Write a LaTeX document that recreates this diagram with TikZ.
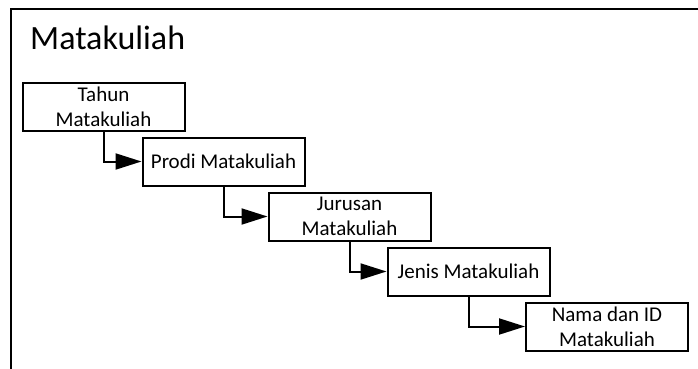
\documentclass[tikz,border=0pt]{standalone}
\usepackage{fontspec}
\setmainfont{Carlito}
\usetikzlibrary{arrows.meta}

\begin{document}
\begin{tikzpicture}
    [x=1pt,y=-1pt,
    level/.style={rectangle,draw,line width=2pt,minimum width=162pt,minimum height=48pt,
        inner sep=2pt,align=center,font=\fontsize{21}{25}\selectfont},
    turun/.style={line width=2pt,-{Triangle[length=26pt,width=16pt]}}]
    \useasboundingbox (0,0) rectangle (698,369);
    % frame, cut off at the right and bottom
    \draw[line width=2.5pt] (698,9) -- (11,9) -- (11,369);
    \node[anchor=base west,inner sep=0pt,font=\fontsize{34}{40}\selectfont] (judul) at (30,50) {Matakuliah};
    \node[level] (tahun) at (103.5,107) {Tahun\\Matakuliah};
    \node[level] (prodi) at (223.5,161.5) {Prodi Matakuliah};
    \node[level] (jurusan) at (349.5,216.5) {Jurusan\\Matakuliah};
    \node[level] (jenis) at (468.5,271.5) {Jenis Matakuliah};
    \node[level] (nama) at (607,326.5) {Nama dan ID\\Matakuliah};
    \draw[turun] (tahun.south) |- (prodi.west);
    \draw[turun] (prodi.south) |- (jurusan.west);
    \draw[turun] (jurusan.south) |- (jenis.west);
    \draw[turun] (jenis.south) |- (nama.west);
\end{tikzpicture}
\end{document}
